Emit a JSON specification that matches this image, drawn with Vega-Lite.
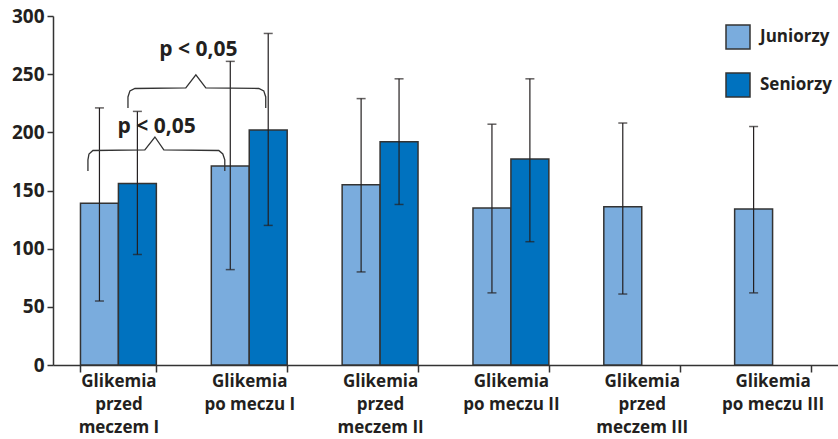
{
  "$schema": "https://vega.github.io/schema/vega-lite/v6.json",
  "width": 785,
  "height": 349,
  "autosize": "none",
  "padding": {"left": 53, "top": 16, "right": 0, "bottom": 74},
  "background": "white",
  "config": {
    "view": {"stroke": null},
    "font": "Open Sans",
    "axis": {"domainColor": "#333", "tickColor": "#333", "domainWidth": 1.5, "tickWidth": 1.5, "labelColor": "#231f20", "grid": false, "title": null}
  },
  "datasets": {
    "bars": [
      {"cat": "Glikemia|przed|meczem I", "grp": "Juniorzy", "mean": 139, "lo": 55, "hi": 221},
      {"cat": "Glikemia|przed|meczem I", "grp": "Seniorzy", "mean": 156, "lo": 95, "hi": 218},
      {"cat": "Glikemia|po meczu I", "grp": "Juniorzy", "mean": 171, "lo": 82, "hi": 261},
      {"cat": "Glikemia|po meczu I", "grp": "Seniorzy", "mean": 202, "lo": 120, "hi": 285},
      {"cat": "Glikemia|przed|meczem II", "grp": "Juniorzy", "mean": 155, "lo": 80, "hi": 229},
      {"cat": "Glikemia|przed|meczem II", "grp": "Seniorzy", "mean": 192, "lo": 138, "hi": 246},
      {"cat": "Glikemia|po meczu II", "grp": "Juniorzy", "mean": 135, "lo": 62, "hi": 207},
      {"cat": "Glikemia|po meczu II", "grp": "Seniorzy", "mean": 177, "lo": 106, "hi": 246},
      {"cat": "Glikemia|przed|meczem III", "grp": "Juniorzy", "mean": 136, "lo": 61, "hi": 208},
      {"cat": "Glikemia|po meczu III", "grp": "Juniorzy", "mean": 134, "lo": 62, "hi": 205}
    ],
    "brackets": [
      {"b": 1, "i": 1, "u": 0.267, "v": 166.8},
      {"b": 1, "i": 2, "u": 0.267, "v": 176.3},
      {"b": 1, "i": 3, "u": 0.275, "v": 181.4},
      {"b": 1, "i": 4, "u": 0.305, "v": 184.4},
      {"b": 1, "i": 5, "u": 0.702, "v": 184.9},
      {"b": 1, "i": 6, "u": 0.779, "v": 196.0},
      {"b": 1, "i": 7, "u": 0.847, "v": 184.9},
      {"b": 1, "i": 8, "u": 1.267, "v": 184.4},
      {"b": 1, "i": 9, "u": 1.298, "v": 181.4},
      {"b": 1, "i": 10, "u": 1.313, "v": 176.3},
      {"b": 1, "i": 11, "u": 1.313, "v": 166.8},
      {"b": 2, "i": 1, "u": 0.573, "v": 221.0},
      {"b": 2, "i": 2, "u": 0.573, "v": 230.4},
      {"b": 2, "i": 3, "u": 0.588, "v": 235.6},
      {"b": 2, "i": 4, "u": 0.626, "v": 237.7},
      {"b": 2, "i": 5, "u": 1.015, "v": 238.2},
      {"b": 2, "i": 6, "u": 1.092, "v": 249.4},
      {"b": 2, "i": 7, "u": 1.168, "v": 238.2},
      {"b": 2, "i": 8, "u": 1.573, "v": 237.7},
      {"b": 2, "i": 9, "u": 1.611, "v": 235.6},
      {"b": 2, "i": 10, "u": 1.626, "v": 230.4},
      {"b": 2, "i": 11, "u": 1.626, "v": 221.0}
    ],
    "ptext": [
      {"u": 0.792, "v": 204.6, "t": "p < 0,05"},
      {"u": 1.111, "v": 270.9, "t": "p < 0,05"}
    ]
  },
  "resolve": {"scale": {"x": "independent"}, "axis": {"x": "independent"}},
  "layer": [
    {
      "data": {"name": "bars"},
      "encoding": {
        "x": {
          "field": "cat", "type": "nominal", "sort": null,
          "scale": {"paddingInner": 0.42, "paddingOuter": 0.21},
          "axis": {
            "labelAngle": 0, "tickBand": "extent", "tickSize": 7, "labelPadding": 1,
            "labelFontSize": 17, "labelFontWeight": "bold", "labelLineHeight": 23,
            "labelBaseline": "top",
            "labelExpr": "split(datum.label, '|')"
          }
        },
        "xOffset": {"field": "grp", "type": "nominal", "scale": {"domain": ["Juniorzy", "Seniorzy"], "paddingInner": 0, "paddingOuter": 0}},
        "y": {
          "type": "quantitative",
          "scale": {"domain": [0, 300], "nice": false},
          "axis": {"values": [0, 50, 100, 150, 200, 250, 300], "tickSize": 6, "labelPadding": 3, "labelFontSize": 19, "labelFontWeight": "bold"}
        }
      },
      "layer": [
        {
          "mark": {"type": "bar", "stroke": "#333", "strokeWidth": 1.5},
          "encoding": {
            "y": {"field": "mean", "type": "quantitative"},
            "color": {
              "field": "grp", "type": "nominal",
              "scale": {"domain": ["Juniorzy", "Seniorzy"], "range": ["#7aacdd", "#0072bf"]},
              "legend": {
                "title": null, "orient": "none", "legendX": 672, "legendY": 8,
                "symbolType": "square", "symbolSize": 576, "symbolStrokeColor": "#333", "symbolStrokeWidth": 1.5,
                "symbolOpacity": 1, "labelFontSize": 17, "labelFontWeight": "bold", "labelColor": "#231f20",
                "labelOffset": 9, "rowPadding": 18, "padding": 0
              }
            }
          }
        },
        {
          "mark": {"type": "rule", "color": "#231f20", "strokeWidth": 1.2},
          "encoding": {"y": {"field": "lo", "type": "quantitative"}, "y2": {"field": "hi"}}
        },
        {
          "mark": {"type": "tick", "color": "#231f20", "thickness": 1.5, "size": 9},
          "encoding": {"y": {"field": "lo", "type": "quantitative"}}
        },
        {
          "mark": {"type": "tick", "color": "#231f20", "thickness": 1.5, "size": 9},
          "encoding": {"y": {"field": "hi", "type": "quantitative"}}
        }
      ]
    },
    {
      "data": {"name": "brackets"},
      "mark": {"type": "line", "color": "#333", "strokeWidth": 1.3},
      "encoding": {
        "x": {"field": "u", "type": "quantitative", "scale": {"domain": [0, 6], "nice": false, "zero": false}, "axis": null},
        "y": {"field": "v", "type": "quantitative"},
        "detail": {"field": "b", "type": "nominal"},
        "order": {"field": "i", "type": "quantitative"}
      }
    },
    {
      "data": {"name": "ptext"},
      "mark": {"type": "text", "fontSize": 21, "fontWeight": "bold", "color": "#231f20", "baseline": "middle", "align": "center"},
      "encoding": {
        "x": {"field": "u", "type": "quantitative", "scale": {"domain": [0, 6], "nice": false, "zero": false}, "axis": null},
        "y": {"field": "v", "type": "quantitative"},
        "text": {"field": "t"}
      }
    }
  ]
}
